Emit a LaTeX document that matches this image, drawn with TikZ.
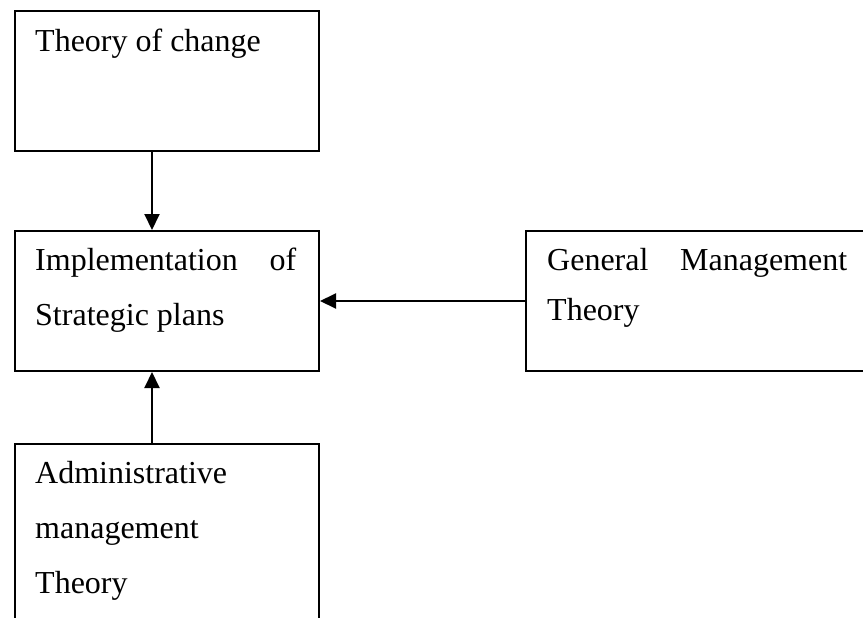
\documentclass[tikz,border=0pt]{standalone}
\usepackage{fontspec}
\setmainfont{Liberation Serif}
\usetikzlibrary{arrows.meta}
\begin{document}
\begin{tikzpicture}[x=1pt,y=-1pt,
  box/.style={draw,line width=2pt,rectangle,inner sep=0pt,anchor=north west},
  txt/.style={anchor=base west,inner sep=0pt,font=\fontsize{32}{55}\selectfont},
  arr/.style={line width=2pt,-{Triangle[length=16pt,width=15pt]}}]
\useasboundingbox (0,0) rectangle (863,618);
% boxes
\node[box,minimum width=304pt,minimum height=140pt] (b1) at (14,10) {};
\node[box,minimum width=304pt,minimum height=140pt] (b2) at (14,230) {};
\node[box,minimum width=345pt,minimum height=140pt] (b3) at (525,230) {};
\node[box,minimum width=304pt,minimum height=220pt] (b4) at (14,443) {};
% texts
\node[txt] (t1) at (35,52) {Theory of change};
\node[txt,text width=261pt] (t2a) at (35,270) {Implementation\hfill of};
\node[txt] (t2b) at (35,325) {Strategic plans};
\node[txt,text width=300pt] (t3a) at (547,270) {General\hfill Management};
\node[txt] (t3b) at (547,320) {Theory};
\node[txt] (t4a) at (35,483) {Administrative};
\node[txt] (t4b) at (35,538) {management};
\node[txt] (t4c) at (35,593) {Theory};
% connectors
\coordinate (ax) at (152,0);
\draw[arr] (b1.south -| ax) -- (b2.north -| ax);
\draw[arr] (b4.north -| ax) -- (b2.south -| ax);
\draw[arr] (b3.west) -- (b2.east);
\end{tikzpicture}
\end{document}
